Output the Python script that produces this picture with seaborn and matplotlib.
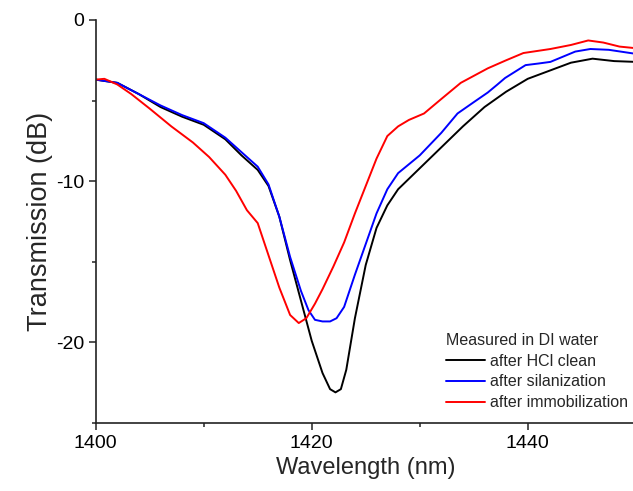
import numpy as np
import pandas as pd
import matplotlib
matplotlib.use('Agg')
import matplotlib.pyplot as plt
import seaborn as sns
from matplotlib.ticker import MultipleLocator

# Data (wavelength in nm, transmission in dB)
hcl_x = [1400, 1402, 1404, 1406, 1408, 1410, 1412, 1413.5, 1415, 1416, 1417, 1418, 1419,
         1420, 1421, 1421.7, 1422.2, 1422.7, 1423.2, 1424, 1425, 1426, 1427, 1428, 1430,
         1432, 1434, 1436, 1438, 1440, 1442, 1444, 1446, 1448, 1450]
hcl_y = [-3.7, -3.9, -4.6, -5.4, -6.0, -6.5, -7.4, -8.4, -9.3, -10.3, -12.2, -14.9, -17.4,
         -19.9, -21.9, -22.9, -23.1, -22.9, -21.7, -18.5, -15.2, -12.9, -11.5, -10.5, -9.2,
         -7.9, -6.6, -5.4, -4.45, -3.65, -3.15, -2.65, -2.4, -2.55, -2.6]

sil_x = [1400, 1402, 1404, 1406, 1408, 1410, 1412, 1413.5, 1415, 1416, 1417, 1418, 1419,
         1419.7, 1420.3, 1421, 1421.7, 1422.3, 1423, 1424, 1425, 1426, 1427, 1428, 1430,
         1432, 1433.5, 1435, 1436.3, 1437.2, 1437.9, 1439.8, 1441, 1442.1, 1444.4, 1445.8,
         1447.5, 1450]
sil_y = [-3.7, -3.9, -4.6, -5.3, -5.9, -6.4, -7.3, -8.2, -9.1, -10.2, -12.2, -14.7, -16.8,
         -18.0, -18.6, -18.7, -18.7, -18.5, -17.8, -15.8, -13.9, -12.0, -10.5, -9.5, -8.4,
         -7.0, -5.8, -5.1, -4.5, -4.0, -3.6, -2.8, -2.7, -2.6, -1.96, -1.8,
         -1.85, -2.1]

imm_x = [1400, 1400.8, 1402, 1403.3, 1405, 1407, 1409, 1410.5, 1412, 1413, 1414, 1415,
         1416, 1417, 1418, 1418.8, 1419.5, 1420.3, 1421, 1422, 1423, 1424, 1425, 1426,
         1427, 1428, 1429, 1430.4, 1432, 1433.8, 1436.3, 1438, 1439.6, 1442.1, 1444,
         1445.6, 1447, 1448.5, 1450]
imm_y = [-3.7, -3.65, -4.0, -4.6, -5.5, -6.6, -7.6, -8.5, -9.6, -10.6, -11.8, -12.6,
         -14.6, -16.6, -18.3, -18.8, -18.5, -17.6, -16.7, -15.3, -13.8, -12.0, -10.3, -8.6,
         -7.2, -6.6, -6.2, -5.8, -4.9, -3.9, -3.0, -2.5, -2.05, -1.8, -1.55, -1.27, -1.4,
         -1.65, -1.75]

labels = ['after HCl clean', 'after silanization', 'after immobilization']
colors = ['black', 'blue', 'red']

df = pd.concat([
    pd.DataFrame({'wl': hcl_x, 'T': hcl_y, 'step': labels[0]}),
    pd.DataFrame({'wl': sil_x, 'T': sil_y, 'step': labels[1]}),
    pd.DataFrame({'wl': imm_x, 'T': imm_y, 'step': labels[2]}),
])

sns.set_style('ticks')
plt.rcParams['font.family'] = ['Liberation Sans', 'DejaVu Sans']
plt.rcParams['axes.unicode_minus'] = False

fig = plt.figure(figsize=(6.33, 4.91), dpi=100)
ax = fig.add_axes([0.1512, 0.1385, 0.8531, 0.8208])

sns.lineplot(data=df, x='wl', y='T', hue='step', hue_order=labels,
             palette=dict(zip(labels, colors)), sort=False, linewidth=1.4,
             estimator=None, ax=ax)

ax.set_xlim(1400, 1450)
ax.set_ylim(-25, 0)
ax.xaxis.set_major_locator(MultipleLocator(20))
ax.xaxis.set_minor_locator(MultipleLocator(10))
ax.yaxis.set_major_locator(MultipleLocator(10))
ax.yaxis.set_minor_locator(MultipleLocator(5))
ax.tick_params(which='major', length=5, width=1.1, labelsize=14, colors='#222222',
               labelcolor='black')
ax.tick_params(which='minor', length=3, width=1.1, colors='#222222')
ax.set_xlabel('Wavelength (nm)', fontsize=17, labelpad=4)
ax.set_ylabel('Transmission (dB)', fontsize=19.5, labelpad=2)
sns.despine(ax=ax)
for s in ['left', 'bottom']:
    ax.spines[s].set_linewidth(1.2)
    ax.spines[s].set_color('#222222')

leg = ax.legend(title='Measured in DI water', loc='lower right', frameon=False,
                fontsize=11.5, title_fontsize=11.5, handlelength=2.45,
                handletextpad=0.3, labelspacing=0.36, borderaxespad=0.1,
                bbox_to_anchor=(1.0, 0.012))
leg._legend_box.align = 'left'

fig.savefig('out.png', dpi=100)
